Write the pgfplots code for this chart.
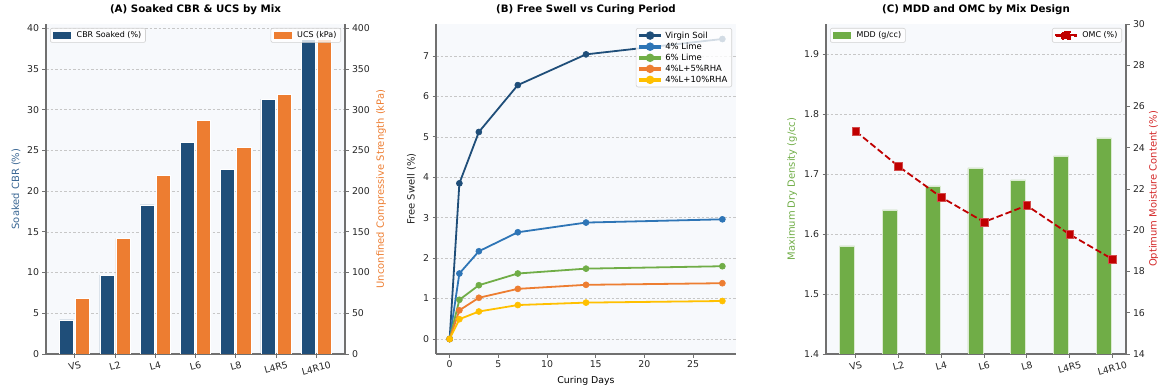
\documentclass[border=0pt]{standalone}
\usepackage{fontspec}
\setmainfont{DejaVu Sans}
\usepackage{graphicx}
\usepackage{pgfplots}
\usepackage{pgfplotstable}
\pgfplotsset{compat=1.18}

\definecolor{cbr}{HTML}{1F4E79}
\definecolor{cbrlab}{HTML}{3A6794}
\definecolor{ucs}{HTML}{ED7D31}
\definecolor{limefour}{HTML}{2E75B6}
\definecolor{limesix}{HTML}{70AD47}
\definecolor{rhaten}{HTML}{FFC000}
\definecolor{mdd}{HTML}{70AD47}
\definecolor{omc}{HTML}{C00000}
\definecolor{omclab}{HTML}{D42A2A}
\definecolor{bgc}{HTML}{F7F9FC}
\definecolor{spine}{HTML}{707070}
\definecolor{tickc}{HTML}{262626}

\newcommand{\rl}[1]{\rotatebox{15}{#1}}

\pgfplotstableread{
idx cbr ucs mdd omc
0 4.2 68 1.58 24.8
1 9.7 142 1.64 23.1
2 18.3 219 1.68 21.6
3 26.0 287 1.71 20.4
4 22.7 254 1.69 21.2
5 31.3 319 1.73 19.8
6 38.6 386 1.76 18.6
}\tabMix

\pgfplotstableread{
day vs lfour lsix rfive rten
0 0 0 0 0 0
1 3.85 1.62 0.97 0.71 0.49
3 5.12 2.17 1.33 1.02 0.68
7 6.28 2.64 1.62 1.24 0.84
14 7.04 2.88 1.74 1.34 0.90
28 7.42 2.96 1.80 1.38 0.94
}\tabSwell

\pgfplotsset{
  common/.style={
    scale only axis, height=330bp,
    axis line style={spine, line width=1.1bp},
    tick style={spine, line width=0.8bp},
    major tick length=3.5bp,
    tick align=outside,
    tick label style={font=\fontsize{9.4}{11}\selectfont, text=tickc},
    /pgf/number format/assume math mode=true,
    label style={font=\fontsize{9.4}{11}\selectfont},
    legend cell align=left,
    legend style={font=\fontsize{8}{9}\selectfont, draw=black!18, line width=0.6bp,
      rounded corners=2bp, fill=white, fill opacity=0.8, text opacity=1, draw opacity=1,
      inner xsep=3bp, inner ysep=2bp, nodes={inner sep=1.3bp}},
  },
  base/.style={
    common,
    axis background/.style={fill=bgc},
    title style={at={(0.5,1)}, anchor=base, yshift=5.5bp, font=\fontsize{10.3}{12}\selectfont\bfseries},
    ymajorgrids,
    major grid style={black!22, line width=0.5bp, dash pattern=on 2.5bp off 2bp},
    axis x line*=bottom, axis y line*=left,
  },
  twin/.style={
    common,
    axis x line=none, axis y line*=right,
  },
  legNW/.style={legend style={at={(0,1)}, anchor=north west, xshift=4bp, yshift=-4bp}},
  legNE/.style={legend style={at={(1,1)}, anchor=north east, xshift=-4bp, yshift=-4bp}},
  ylab/.style={every axis y label/.style={at={(axis description cs:#1,0.5)}, rotate=90, anchor=center}},
  barleg/.style={legend image code/.code={\fill[#1, opacity=1, sharp corners] (0bp,-2.8bp) rectangle (17bp,2.8bp);
    \path (0bp,0bp) (21.5bp,0bp);}},
  dotleg/.style={legend image code/.code={\fill[#1, opacity=1, sharp corners] (0bp,-0.95bp) rectangle (20bp,0.95bp);
    \fill[#1, opacity=1] (10bp,0bp) circle (3.3bp); \path (0bp,0bp) (23bp,0bp);}},
  sqleg/.style={legend image code/.code={\fill[#1, opacity=1, sharp corners] (0bp,-0.95bp) rectangle (20bp,0.95bp);
    \fill[#1, opacity=1, sharp corners] (6.2bp,-3.8bp) rectangle (13.8bp,3.8bp); \path (0bp,0bp) (24bp,0bp);}},
}

\begin{document}
\begin{tikzpicture}
\useasboundingbox (0,0) rectangle (1158bp,388bp);

% ---------------- (A) ----------------
\begin{axis}[base, legNW, at={(46bp,34bp)}, anchor=south west, width=299bp,
  xmin=-0.7125, xmax=6.7125, ymin=0, ymax=40.53,
  ytick={0,5,...,40}, xtick={0,...,6},
  xticklabels={\rl{VS},\rl{L2},\rl{L4},\rl{L6},\rl{L8},\rl{L4R5},\rl{L4R10}},
  title={(A) Soaked CBR \& UCS by Mix},
  ylab=-0.1003, ylabel={Soaked CBR (\%)}, ylabel style={text=cbrlab}]
\addplot[ybar, bar width=0.35, bar shift=-0.2, fill=cbr, draw=white, line width=0.6bp, barleg=cbr]
  table[x=idx, y=cbr]{\tabMix};
\addlegendentry{CBR Soaked (\%)}
\end{axis}
\begin{axis}[twin, legNE, at={(46bp,34bp)}, anchor=south west, width=299bp,
  xmin=-0.7125, xmax=6.7125, ymin=0, ymax=405.3,
  ytick={0,50,...,400},
  ylab=1.1204, ylabel={Unconfined Compressive Strength (kPa)}, ylabel style={text=ucs}]
\addplot[ybar, bar width=0.35, bar shift=0.2, fill=ucs, draw=white, line width=0.6bp, barleg=ucs]
  table[x=idx, y=ucs]{\tabMix};
\addlegendentry{UCS (kPa)}
\end{axis}

% ---------------- (B) ----------------
\begin{axis}[base, legNE, at={(436bp,34bp)}, anchor=south west, width=300bp,
  xmin=-1.4, xmax=29.4, ymin=-0.371, ymax=7.791,
  xtick={0,5,...,25}, ytick={0,...,7},
  title={(B) Free Swell vs Curing Period},
  xlabel={Curing Days},
  xlabel style={at={(axis description cs:0.5,0)}, anchor=base, yshift=-29bp},
  ylab=-0.0817, ylabel={Free Swell (\%)}, ylabel style={text=tickc},
  legend style={font=\fontsize{8.5}{9.5}\selectfont, row sep=0.6bp}]
\addplot[cbr, line width=1.8bp, mark=*, mark size=3bp, mark options={solid, fill=cbr, line width=0.6bp}, dotleg=cbr]
  table[x=day, y=vs]{\tabSwell};
\addlegendentry{Virgin Soil}
\addplot[limefour, line width=1.8bp, mark=*, mark size=3bp, mark options={solid, fill=limefour, line width=0.6bp}, dotleg=limefour]
  table[x=day, y=lfour]{\tabSwell};
\addlegendentry{4\% Lime}
\addplot[limesix, line width=1.8bp, mark=*, mark size=3bp, mark options={solid, fill=limesix, line width=0.6bp}, dotleg=limesix]
  table[x=day, y=lsix]{\tabSwell};
\addlegendentry{6\% Lime}
\addplot[ucs, line width=1.8bp, mark=*, mark size=3bp, mark options={solid, fill=ucs, line width=0.6bp}, dotleg=ucs]
  table[x=day, y=rfive]{\tabSwell};
\addlegendentry{4\%L+5\%RHA}
\addplot[rhaten, line width=1.8bp, mark=*, mark size=3bp, mark options={solid, fill=rhaten, line width=0.6bp}, dotleg=rhaten]
  table[x=day, y=rten]{\tabSwell};
\addlegendentry{4\%L+10\%RHA}
\end{axis}

% ---------------- (C) ----------------
\begin{axis}[base, legNW, at={(826bp,34bp)}, anchor=south west, width=300bp,
  xmin=-0.694, xmax=6.319, ymin=1.4, ymax=1.95,
  ytick={1.4,1.5,...,1.9}, xtick={0,...,6},
  yticklabel style={/pgf/number format/.cd, fixed, fixed zerofill, precision=1},
  xticklabels={\rl{VS},\rl{L2},\rl{L4},\rl{L6},\rl{L8},\rl{L4R5},\rl{L4R10}},
  title={(C) MDD and OMC by Mix Design},
  ylab=-0.113, ylabel={Maximum Dry Density (g/cc)}, ylabel style={text=mdd}]
\addplot[ybar, bar width=0.35, bar shift=-0.2, fill=mdd, draw=white!75!mdd, line width=0.6bp, barleg=mdd]
  table[x=idx, y=mdd]{\tabMix};
\addlegendentry{MDD (g/cc)}
\end{axis}
\begin{axis}[twin, legNE, at={(826bp,34bp)}, anchor=south west, width=300bp,
  xmin=-0.694, xmax=6.319, ymin=14, ymax=30,
  ytick={14,16,...,30},
  ylab=1.093, ylabel={Optimum Moisture Content (\%)}, ylabel style={text=omclab}]
\addplot[omc, line width=1.8bp, dash pattern=on 6.5bp off 3bp, mark=square*, mark size=3.8bp,
  mark options={solid, fill=omc, draw=omc!70!white, line width=0.5bp}, sqleg=omc]
  table[x=idx, y=omc]{\tabMix};
\addlegendentry{OMC (\%)}
\end{axis}
\end{tikzpicture}
\end{document}
